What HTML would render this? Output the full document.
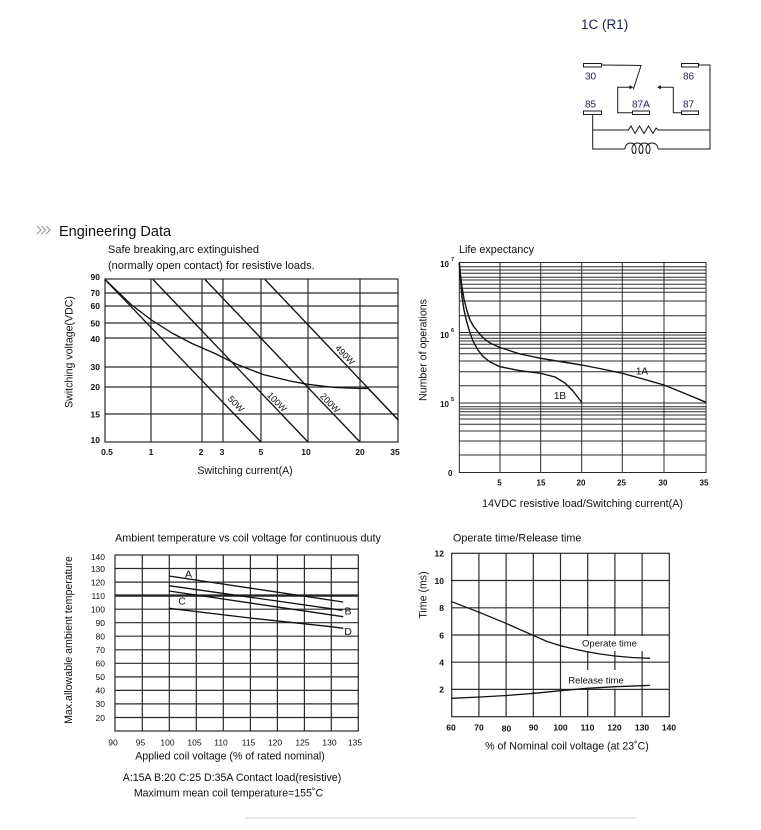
<!DOCTYPE html>
<html><head><meta charset="utf-8"><style>
html,body{margin:0;padding:0;background:#fff;}
svg{display:block;font-family:"Liberation Sans",Arial,sans-serif;}
</style></head><body>
<svg width="761" height="830" viewBox="0 0 761 830" xmlns="http://www.w3.org/2000/svg">
<defs><radialGradient id="sh" cx="0.4" cy="0" r="0.6"><stop offset="0" stop-color="#d8d8d8"/><stop offset="1" stop-color="#fff"/></radialGradient></defs>
<rect x="0" y="0" width="761" height="830" fill="#fff"/>
<ellipse cx="640" cy="0" rx="80" ry="5" fill="url(#sh)"/>

<!-- Circuit -->
<text x="581" y="29" font-size="13.5" fill="#1a2248">1C (R1)</text>
<g stroke="#1a1a1a" stroke-width="1" fill="none">
<rect x="583.5" y="63.5" width="18" height="3.5" fill="#fff"/>
<rect x="681.5" y="63.5" width="17" height="3.5" fill="#fff"/>
<rect x="583.5" y="111" width="18" height="3.5" fill="#fff"/>
<rect x="632.5" y="111" width="17" height="3.5" fill="#fff"/>
<rect x="681.5" y="111" width="17" height="3.5" fill="#fff"/>
<polyline points="601.5,65 641,65.5 633.3,89.5"/>
<polyline points="632.5,112.7 617.7,112.7 617.7,87.3 631,87.3"/>
<polyline points="681.5,112.7 673.3,112.7 673.3,87.3 659,87.3"/>
<polyline points="698.5,65 710,65 710,149 658,149"/>
<polyline points="592.7,114.5 592.7,149 625,149"/>
<polyline points="592.7,130 628.3,130 631,126 635,133.5 639.5,126 644,133.5 648.5,126 653,133.5 656,128 658.3,130 710,130"/>
<path d="M625,149 C625,141 636,141 636,149 C636,155 632,155 632,149 C632,141 643,141 643,149 C643,155 639,155 639,149 C639,141 650,141 650,149 C650,155 646,155 646,149 C646,141 658,141 658,149"/>
</g>
<polygon points="633.5,87.3 629.5,85.3 629.5,89.3" fill="#1a1a1a"/>
<polygon points="657,87.3 661,85.3 661,89.3" fill="#1a1a1a"/>
<g font-size="10" fill="#1a2248">
<text x="585" y="79.5">30</text>
<text x="683" y="79.5">86</text>
<text x="585" y="107.5">85</text>
<text x="632" y="107.5">87A</text>
<text x="683" y="107.5">87</text>
</g>

<!-- Header -->
<g stroke="#9a9a9a" stroke-width="1.2" fill="none">
<polyline points="37,226 41,230 37,234"/>
<polyline points="41.5,226 45.5,230 41.5,234"/>
<polyline points="46,226 50,230 46,234"/>
</g>
<text x="59" y="236" font-size="14.5" fill="#111">Engineering Data</text>

<!-- Chart 1 -->
<text x="108" y="253" font-size="11" fill="#111">Safe breaking,arc extinguished</text>
<text x="108" y="269" font-size="11" fill="#111">(normally open contact) for resistive loads.</text>
<g stroke="#2a2a2a" stroke-width="1.2" fill="none">
<rect x="105" y="279" width="293" height="163"/>
<line x1="151" y1="279" x2="151" y2="442"/>
<line x1="202" y1="279" x2="202" y2="442"/>
<line x1="223" y1="279" x2="223" y2="442"/>
<line x1="261" y1="279" x2="261" y2="442"/>
<line x1="308" y1="279" x2="308" y2="442"/>
<line x1="360" y1="279" x2="360" y2="442"/>
<line x1="105" y1="293" x2="398" y2="293"/>
<line x1="105" y1="306" x2="398" y2="306"/>
<line x1="105" y1="323" x2="398" y2="323"/>
<line x1="105" y1="338" x2="398" y2="338"/>
<line x1="105" y1="367" x2="398" y2="367"/>
<line x1="105" y1="387" x2="398" y2="387"/>
<line x1="105" y1="414" x2="398" y2="414"/>
</g>
<g stroke="#111" stroke-width="1.3" fill="none">
<line x1="105" y1="279.5" x2="261" y2="442"/>
<line x1="153" y1="279.5" x2="308" y2="442"/>
<line x1="205" y1="279.5" x2="360" y2="442"/>
<line x1="265" y1="279.5" x2="398.3" y2="420"/>
<polyline points="105,279.5 131.7,305 150.7,319.5 172,333 192,343.5 215,353.5 236,364 263,374.5 290,381 307.7,384.3 335,387.5 360,388.5 368,388.3 398.3,420"/>
</g>
<g font-size="9" fill="#111">
<text transform="translate(236,404) rotate(46)" text-anchor="middle" dominant-baseline="central">50W</text>
<text transform="translate(277,402) rotate(46)" text-anchor="middle" dominant-baseline="central">100W</text>
<text transform="translate(330,403) rotate(46)" text-anchor="middle" dominant-baseline="central">200W</text>
<text transform="translate(345,355) rotate(46)" text-anchor="middle" dominant-baseline="central">490W</text>
</g>
<g font-size="8.5" font-weight="bold" fill="#111" text-anchor="end">
<text x="100" y="280">90</text>
<text x="100" y="296">70</text>
<text x="100" y="309">60</text>
<text x="100" y="326.5">50</text>
<text x="100" y="342">40</text>
<text x="100" y="370">30</text>
<text x="100" y="390">20</text>
<text x="100" y="417.5">15</text>
<text x="100" y="443">10</text>
</g>
<g font-size="8.5" font-weight="bold" fill="#111" text-anchor="middle">
<text x="107" y="455">0.5</text>
<text x="151" y="455">1</text>
<text x="201" y="455">2</text>
<text x="222" y="455">3</text>
<text x="261" y="455">5</text>
<text x="306" y="455">10</text>
<text x="360" y="455">20</text>
<text x="395" y="455">35</text>
</g>
<text x="245" y="474" font-size="10.6" fill="#111" text-anchor="middle">Switching current(A)</text>
<text transform="translate(72.5,352) rotate(-90)" font-size="10.6" fill="#111" text-anchor="middle">Switching voltage(VDC)</text>

<!-- Chart 2 -->
<text x="459" y="253" font-size="10.8" fill="#111">Life expectancy</text>
<g stroke="#2a2a2a" stroke-width="1" fill="none">
<rect x="459.3" y="262.5" width="246.7" height="210"/>
<line x1="500" y1="262.5" x2="500" y2="472.5"/>
<line x1="540.7" y1="262.5" x2="540.7" y2="472.5"/>
<line x1="581.7" y1="262.5" x2="581.7" y2="472.5"/>
<line x1="622.3" y1="262.5" x2="622.3" y2="472.5"/>
<line x1="664" y1="262.5" x2="664" y2="472.5"/>
<path d="M459.3,266.7H706M459.3,270H706M459.3,273.3H706M459.3,277.3H706M459.3,280H706M459.3,284.3H706M459.3,288.3H706M459.3,292.3H706M459.3,301H706M459.3,315.7H706M459.3,332.5H706M459.3,335H706M459.3,338.3H706M459.3,341H706M459.3,344.3H706M459.3,348.3H706M459.3,353.7H706M459.3,361H706M459.3,371.7H706M459.3,385.7H706M459.3,403H706M459.3,406.7H706M459.3,409H706M459.3,411.7H706M459.3,415H706M459.3,419H706M459.3,424.3H706M459.3,431H706M459.3,441H706M459.3,455H706"/>
</g>
<g stroke="#111" stroke-width="1.4" fill="none" stroke-linejoin="round">
<polyline points="459.3,262.5 460.5,275 462,287 464,299 467,311 470,320 473.3,326 478,332 483.3,338 490,343 500,347.5 520,354 540.7,358.3 560,361.5 581.7,365 602,369 622.3,373.3 643,379 664,385 685,393.5 706,402.3"/>
<polyline points="459.3,262.5 460.5,280 462,297 464,310 466.7,321.7 470,333 473.3,341.7 478,350 483.3,356.7 490,362 500,366.7 520,370.7 540.7,373.3 555,377 565,383 573,391 581.7,402.3"/>
</g>
<text x="642" y="374.5" font-size="10" fill="#111" text-anchor="middle">1A</text>
<text x="560" y="399" font-size="10" fill="#111" text-anchor="middle">1B</text>
<g font-size="8" font-weight="bold" fill="#111">
<text x="449" y="267" text-anchor="end">10</text><text x="451" y="261" font-size="5.5">7</text>
<text x="449" y="338" text-anchor="end">10</text><text x="451" y="332" font-size="5.5">6</text>
<text x="449" y="407" text-anchor="end">10</text><text x="451" y="401" font-size="5.5">5</text>
<text x="452.5" y="476" text-anchor="end">0</text>
</g>
<g font-size="8" font-weight="bold" fill="#111" text-anchor="middle">
<text x="499.5" y="485.5">5</text>
<text x="541" y="485.5">15</text>
<text x="581" y="485.5">20</text>
<text x="621.5" y="485.5">25</text>
<text x="663" y="485.5">30</text>
<text x="704" y="485.5">35</text>
</g>
<text x="582.5" y="507" font-size="10.8" fill="#111" text-anchor="middle">14VDC resistive load/Switching current(A)</text>
<text transform="translate(426.5,350) rotate(-90)" font-size="10.6" fill="#111" text-anchor="middle">Number of operations</text>

<!-- Chart 3 -->
<text x="115" y="541.5" font-size="10.8" fill="#111">Ambient temperature vs coil voltage for continuous duty</text>
<g stroke="#2a2a2a" stroke-width="1.2" fill="none">
<rect x="115" y="555" width="243.3" height="176"/>
<path d="M142.3,555V731M169.3,555V731M196.3,555V731M223.3,555V731M250.4,555V731M277.4,555V731M304.4,555V731M331.3,555V731"/>
<path d="M115,568.5H358.3M115,582.1H358.3M115,609.2H358.3M115,622.7H358.3M115,636.2H358.3M115,649.8H358.3M115,663.3H358.3M115,676.9H358.3M115,690.4H358.3M115,703.9H358.3M115,717.5H358.3"/>
</g>
<line x1="115" y1="595.6" x2="358.3" y2="595.6" stroke="#222" stroke-width="2.4"/>
<g stroke="#111" stroke-width="1.3" fill="none">
<line x1="169" y1="576" x2="343.3" y2="602"/>
<line x1="169" y1="585.7" x2="342.3" y2="610.3"/>
<line x1="169" y1="591" x2="343.3" y2="616.7"/>
<polyline points="169,608.3 250,618 331,626.7 343.3,628.3"/>
</g>
<g font-size="10.5" fill="#111" text-anchor="middle">
<text x="188.5" y="577.5">A</text>
<text x="348" y="614.5">B</text>
<text x="182" y="604.5">C</text>
<text x="348" y="635">D</text>
</g>
<g font-size="8.5" fill="#111" text-anchor="end">
<text x="105" y="560">140</text>
<text x="105" y="572">130</text>
<text x="105" y="585.5">120</text>
<text x="105" y="599">110</text>
<text x="105" y="612.5">100</text>
<text x="105" y="626">90</text>
<text x="105" y="639.5">80</text>
<text x="105" y="653">70</text>
<text x="105" y="666.5">60</text>
<text x="105" y="680">50</text>
<text x="105" y="693.5">40</text>
<text x="105" y="707">30</text>
<text x="105" y="721">20</text>
</g>
<g font-size="8.5" fill="#111" text-anchor="middle">
<text x="113" y="745.5">90</text>
<text x="140.5" y="745.5">95</text>
<text x="167.5" y="745.5">100</text>
<text x="194.5" y="745.5">105</text>
<text x="221" y="745.5">110</text>
<text x="248.5" y="745.5">115</text>
<text x="275" y="745.5">120</text>
<text x="302.5" y="745.5">125</text>
<text x="329.5" y="745.5">130</text>
<text x="355" y="745.5">135</text>
</g>
<text x="230" y="759.5" font-size="10.6" fill="#111" text-anchor="middle">Applied coil voltage (% of rated nominal)</text>
<text x="232" y="781" font-size="10.6" fill="#111" text-anchor="middle">A:15A B:20 C:25 D:35A Contact load(resistive)</text>
<text x="228.5" y="796.5" font-size="10.6" fill="#111" text-anchor="middle">Maximum mean coil temperature=155˚C</text>
<text transform="translate(72,640) rotate(-90)" font-size="10.6" fill="#111" text-anchor="middle">Max.allowable ambient temperature</text>

<!-- Chart 4 -->
<text x="453" y="541.5" font-size="10.8" fill="#111">Operate time/Release time</text>
<g stroke="#2a2a2a" stroke-width="1.2" fill="none">
<rect x="451.7" y="553.3" width="217.6" height="163.4"/>
<path d="M478.9,553.3V716.7M506.1,553.3V716.7M533.3,553.3V716.7M560.5,553.3V716.7M587.7,553.3V716.7M614.9,553.3V716.7M642.1,553.3V716.7"/>
<path d="M451.7,580.5H669.3M451.7,607.8H669.3M451.7,635H669.3M451.7,662.2H669.3M451.7,689.4H669.3"/>
</g>
<rect x="575" y="636" width="75" height="15" fill="#fff"/>
<rect x="562" y="670" width="78" height="18.6" fill="#fff"/>
<g stroke="#111" stroke-width="1.3" fill="none" stroke-linejoin="round">
<polyline points="451.7,601.7 479.3,612.3 506.7,623.7 534,635.7 547,641.5 560.7,645.7 574,649 587.3,651.7 600,654 615,656 632,657.5 650,658.3"/>
<polyline points="451.7,698.3 480,697 506.7,695.5 534,693.3 560.7,690.7 587.3,688.3 615,686.7 650,685.4"/>
</g>
<text x="609.5" y="646.5" font-size="9.5" fill="#111" text-anchor="middle">Operate  time</text>
<text x="596" y="683.5" font-size="9.5" fill="#111" text-anchor="middle">Release  time</text>
<g font-size="8.5" font-weight="bold" fill="#111" text-anchor="end">
<text x="444" y="556.5">12</text>
<text x="444" y="584">10</text>
<text x="444" y="611">8</text>
<text x="444" y="638.5">6</text>
<text x="444" y="665.5">4</text>
<text x="444" y="692.5">2</text>
</g>
<g font-size="8.5" font-weight="bold" fill="#111" text-anchor="middle">
<text x="451" y="730.5">60</text>
<text x="479" y="730.5">70</text>
<text x="506.5" y="731.5">80</text>
<text x="533.5" y="730.5">90</text>
<text x="560.5" y="730.5">100</text>
<text x="587.5" y="730.5">110</text>
<text x="614.5" y="730.5">120</text>
<text x="642" y="730.5">130</text>
<text x="669" y="730.5">140</text>
</g>
<text x="567" y="749.5" font-size="10.6" fill="#111" text-anchor="middle">% of Nominal coil voltage (at 23˚C)</text>
<text transform="translate(426.5,595) rotate(-90)" font-size="10.6" fill="#111" text-anchor="middle">Time (ms)</text>

<line x1="245" y1="818" x2="636" y2="818" stroke="#d0d0d0" stroke-width="1"/>
</svg>
</body></html>
